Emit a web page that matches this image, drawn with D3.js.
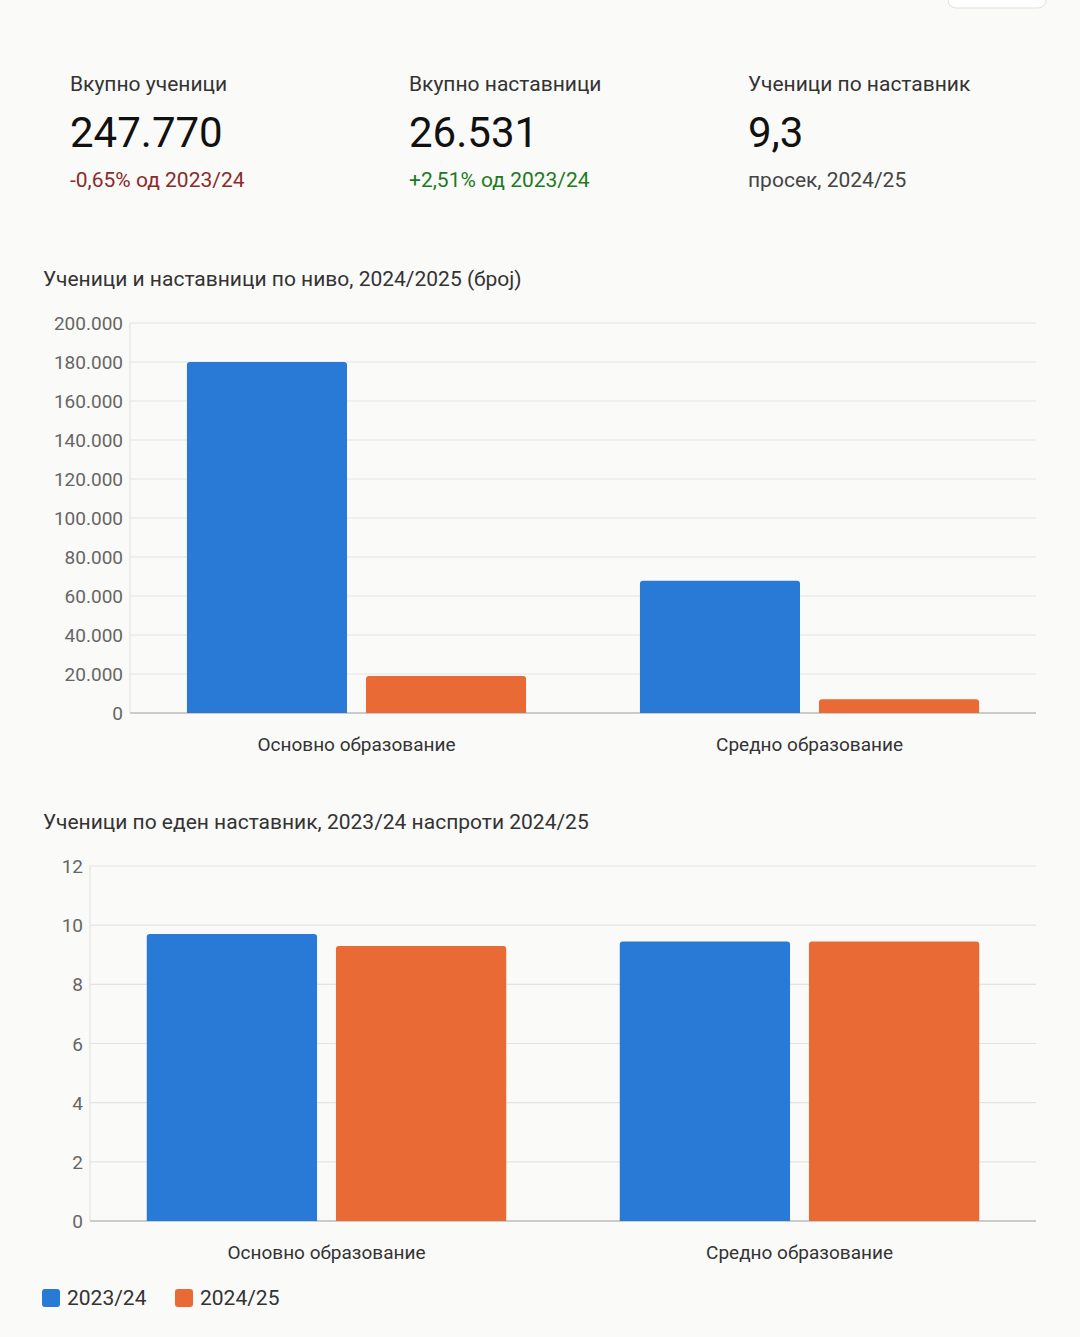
<!DOCTYPE html>
<html><head><meta charset="utf-8">
<script src="https://cdn.jsdelivr.net/npm/d3@7"></script>
<style>
body{margin:0;background:#fafaf8;font-family:Roboto,sans-serif;}
</style></head><body>
<svg id="c" width="1080" height="1337"></svg>
<script>
const categories = ["Основно образование", "Средно образование"];
const seriesNames = ["2023/24", "2024/25"];
const colors = ["#2979d6", "#ea6a35"];
// chart 1: students (blue) and teachers (orange), 2024/25
const studentsByLevel = [180000, 67770];
const teachersByLevel = [19000, 7000];
const ticks1 = [0, 20000, 40000, 60000, 80000, 100000, 120000, 140000, 160000, 180000, 200000];
// chart 2: students per teacher
const ratio2324 = [9.7, 9.45];
const ratio2425 = [9.3, 9.45];
const ticks2 = [0, 2, 4, 6, 8, 10, 12];
const kpis = [
  {label:"Вкупно ученици", value:"247.770", note:"-0,65% од 2023/24", col:"#8b2a2a"},
  {label:"Вкупно наставници", value:"26.531", note:"+2,51% од 2023/24", col:"#1e7a1e"},
  {label:"Ученици по наставник", value:"9,3", note:"просек, 2024/25", col:"#444"}
];

const svg = d3.select("#c");
svg.append("rect").attr("x",948).attr("y",-10).attr("width",98).attr("height",18).attr("rx",8)
  .attr("fill","#fff").attr("stroke","#e0e0e0");

kpis.forEach((k,i)=>{
  const x = 70 + i*339;
  svg.append("text").attr("x",x).attr("y",91).attr("font-size",21).attr("fill","#333").text(k.label);
  svg.append("text").attr("x",x).attr("y",147).attr("font-size",42).attr("fill","#111").text(k.value);
  svg.append("text").attr("x",x).attr("y",187).attr("font-size",21).attr("fill",k.col).text(k.note);
});

const fmt = v => d3.format(",")(v).replace(/,/g,".");
const roundTop = (x,y,w,h,r) => {
  r = Math.min(r,h);
  return `M${x},${y+h}V${y+r}Q${x},${y} ${x+r},${y}H${x+w-r}Q${x+w},${y} ${x+w},${y+r}V${y+h}Z`;
};

function chart(o){
  const g = svg.append("g");
  g.append("text").attr("x",43).attr("y",o.titleY).attr("font-size",21).attr("fill","#333").text(o.title);
  const y = d3.scaleLinear().domain([0,o.max]).range([o.y0,o.y1]);
  const x0 = d3.scaleBand().domain(categories).range([o.xl,1036]);
  const x1 = d3.scaleBand().domain([0,1]).range([0,x0.bandwidth()]).paddingInner(o.pi).paddingOuter(o.po);
  o.ticks.forEach(t=>{
    g.append("line").attr("x1",o.xl).attr("x2",1036).attr("y1",y(t)).attr("y2",y(t))
      .attr("stroke",t===0?"#bbb":"#e3e3e3").attr("stroke-width",t===0?1.5:1.2);
    g.append("text").attr("x",o.xl-7).attr("y",y(t)+7).attr("text-anchor","end")
      .attr("font-size",19).attr("fill","#666").text(o.fmt(t));
  });
  g.append("line").attr("x1",o.xl).attr("x2",o.xl).attr("y1",o.y1).attr("y2",o.y0).attr("stroke","#ddd");
  categories.forEach((c,ci)=>{
    o.series.forEach((s,si)=>{
      const bx = x0(c)+x1(si), by = y(s[ci]);
      g.append("path").attr("d",roundTop(bx,by,x1.bandwidth(),o.y0-by,3)).attr("fill",colors[si]);
    });
    g.append("text").attr("x",x0(c)+x0.bandwidth()/2).attr("y",o.y0+38).attr("text-anchor","middle")
      .attr("font-size",19).attr("fill","#333").text(c);
  });
}

chart({title:"Ученици и наставници по ниво, 2024/2025 (број)", titleY:286, max:200000, y0:713, y1:323,
  xl:130, pi:0.106, po:0.318, ticks:ticks1, fmt:fmt, series:[studentsByLevel, teachersByLevel]});
chart({title:"Ученици по еден наставник, 2023/24 наспроти 2024/25", titleY:829, max:12, y0:1221, y1:866,
  xl:90, pi:0.1, po:0.3, ticks:ticks2, fmt:d=>d, series:[ratio2324, ratio2425]});

seriesNames.forEach((s,i)=>{
  const x = 42 + i*133;
  svg.append("rect").attr("x",x).attr("y",1289).attr("width",18).attr("height",18).attr("rx",3).attr("fill",colors[i]);
  svg.append("text").attr("x",x+25).attr("y",1305).attr("font-size",21).attr("fill","#333").text(s);
});
</script></body></html>
